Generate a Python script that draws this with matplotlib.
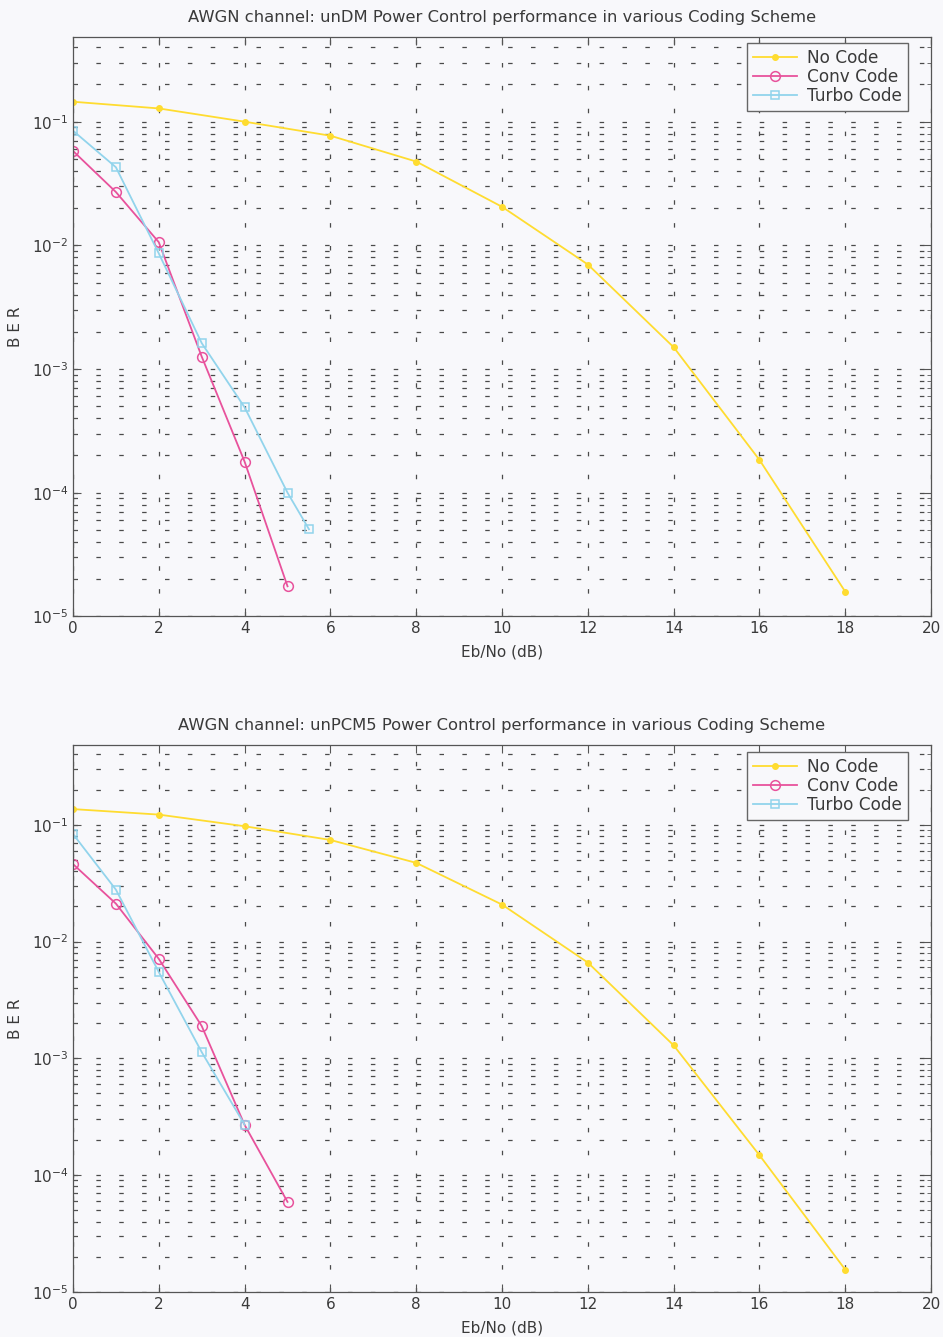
import numpy as np
import matplotlib
matplotlib.use("Agg")
import matplotlib.pyplot as plt
from matplotlib.ticker import LogLocator, FixedLocator, NullFormatter

# values
snr_nocode = [0, 2, 4, 6, 8, 10, 12, 14, 16, 18]

dm_nocode = [0.145, 0.128, 0.100, 0.077, 0.0476, 0.0205, 0.0070, 0.0015, 1.84e-4, 1.58e-5]
dm_conv_x = [0, 1, 2, 3, 4, 5]
dm_conv = [0.058, 0.027, 0.0106, 0.00126, 1.78e-4, 1.75e-5]
dm_turbo_x = [0, 1, 2, 3, 4, 5, 5.5]
dm_turbo = [0.0846, 0.0428, 0.0086, 0.00162, 4.9e-4, 1.0e-4, 5.06e-5]

pcm_nocode = [0.136, 0.122, 0.097, 0.074, 0.0471, 0.0207, 0.0066, 0.00129, 1.48e-4, 1.55e-5]
pcm_conv_x = [0, 1, 2, 3, 4, 5]
pcm_conv = [0.046, 0.0211, 0.0071, 0.00189, 2.69e-4, 5.9e-5]
pcm_turbo_x = [0, 1, 2, 3, 4]
pcm_turbo = [0.0832, 0.0278, 0.00547, 0.00113, 2.7e-4]

titles = ["AWGN channel: unDM Power Control performance in various Coding Scheme",
          "AWGN channel: unPCM5 Power Control performance in various Coding Scheme"]

bg = "#f8f8fb"
txt = "#3a3a3a"
c_no = "#ffdc30"
c_conv = "#e8529c"
c_turbo = "#92d4ec"

plt.rcParams['font.family'] = ['DejaVu Sans']

fig = plt.figure(figsize=(9.43, 13.37), dpi=100, facecolor=bg)
ax1 = fig.add_axes([0.0774, 0.539, 0.910, 0.433])
ax2 = fig.add_axes([0.0774, 0.0337, 0.910, 0.409])

panels = [
    (ax1, dm_nocode, dm_conv_x, dm_conv, dm_turbo_x, dm_turbo, 0.99),
    (ax2, pcm_nocode, pcm_conv_x, pcm_conv, pcm_turbo_x, pcm_turbo, 0.987),
]

for i, (ax, nc, cx, cv, tx, tv, legtop) in enumerate(panels):
    ax.set_facecolor(bg)
    ax.semilogy(snr_nocode, nc, color=c_no, marker='.', markersize=8, lw=1.3, label="No Code")
    ax.semilogy(cx, cv, color=c_conv, marker='o', markersize=7, mfc='none', mew=1.1, lw=1.3, label="Conv Code")
    ax.semilogy(tx, tv, color=c_turbo, marker='s', markersize=6, mfc='none', mew=1.1, lw=1.3, label="Turbo Code")

    ax.set_xlim(0, 20)
    ax.set_ylim(1e-5, 0.48)
    ax.xaxis.set_major_locator(FixedLocator(np.arange(0, 21, 2)))
    ax.yaxis.set_major_locator(LogLocator(base=10))
    ax.yaxis.set_minor_locator(LogLocator(base=10, subs=np.arange(2, 10)))
    ax.yaxis.set_minor_formatter(NullFormatter())

    # matlab style dotted grid
    ax.grid(True, axis='y', which='both', color='#4a4a4a', lw=0.9, linestyle=(0, (3.6, 14.7)))
    ax.grid(True, axis='x', which='major', color='#4a4a4a', lw=0.9, linestyle=(0, (3.6, 14.7)))

    ax.tick_params(which='both', direction='in', top=True, right=True, colors='#555555',
                   labelcolor=txt, labelsize=11)
    ax.tick_params(which='major', length=6)
    ax.tick_params(which='minor', length=3)
    for s in ax.spines.values():
        s.set_color('#555555')
        s.set_linewidth(0.9)

    ax.set_title(titles[i], fontsize=11.8, color=txt, pad=11)
    ax.set_xlabel("Eb/No (dB)", fontsize=11, color=txt, labelpad=6)
    ax.set_ylabel("B E R", fontsize=11, color=txt, labelpad=6)

    leg = ax.legend(loc='upper right', bbox_to_anchor=(0.973, legtop), borderaxespad=0,
                    fontsize=12.2, handlelength=2.6, handletextpad=0.6,
                    fancybox=False, framealpha=1, edgecolor='#666666', labelspacing=0.05,
                    borderpad=0.35)
    leg.get_frame().set_facecolor(bg)
    for t in leg.get_texts():
        t.set_color(txt)

fig.savefig("out.png", dpi=100, facecolor=bg)
